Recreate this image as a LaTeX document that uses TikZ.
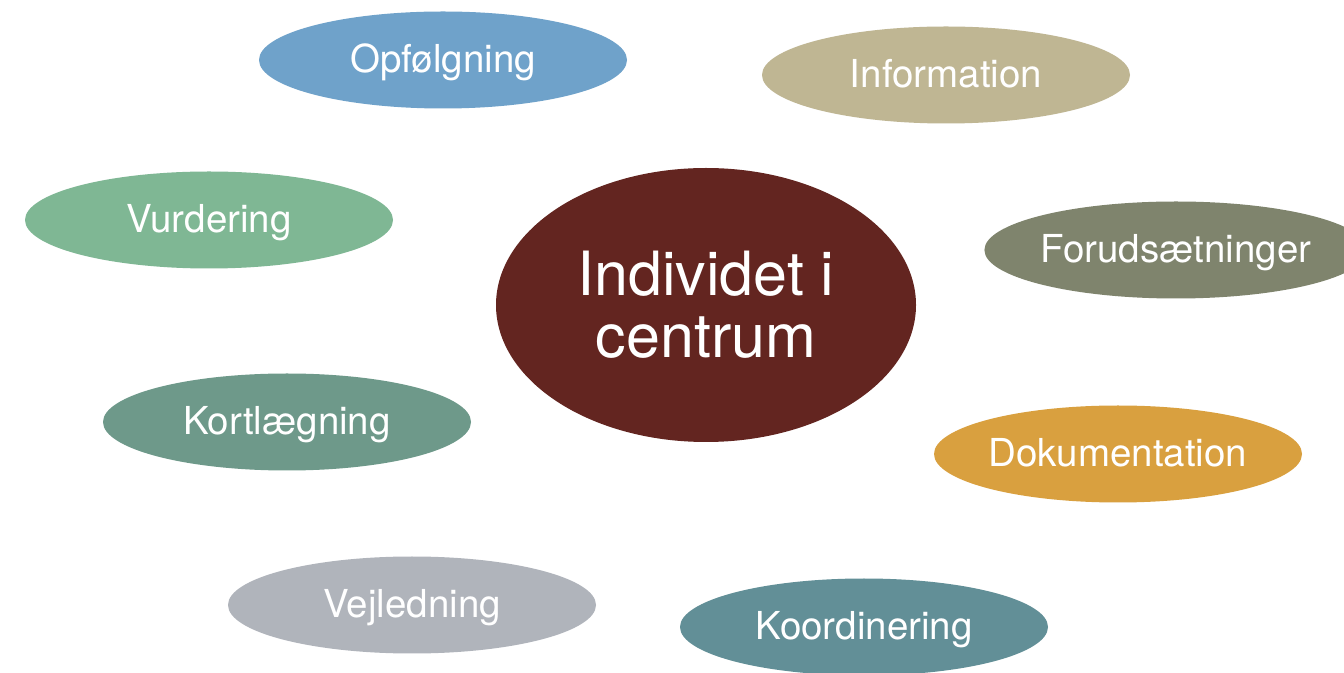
\documentclass[tikz,border=0pt]{standalone}
\usepackage{fontspec}
\setmainfont{TeX Gyre Heros}
\usetikzlibrary{shapes.geometric}
\definecolor{cOpf}{HTML}{6FA2CA}
\definecolor{cInf}{HTML}{BFB693}
\definecolor{cVur}{HTML}{7FB794}
\definecolor{cFor}{HTML}{7F846D}
\definecolor{cCen}{HTML}{632520}
\definecolor{cKor}{HTML}{6E998A}
\definecolor{cDok}{HTML}{D9A03F}
\definecolor{cVej}{HTML}{B0B4BB}
\definecolor{cKoo}{HTML}{628F97}
\tikzset{
  oval/.style={ellipse, inner sep=0pt, minimum width=368pt, minimum height=97pt, text=white, text height=30pt, text depth=4pt, font=\fontsize{38.5}{42}\selectfont},
  bigoval/.style={ellipse, inner sep=0pt, minimum width=420pt, minimum height=274pt, text=white, align=center, font=\fontsize{61}{62}\selectfont}
}
\begin{document}
\begin{tikzpicture}[x=1pt,y=1pt]
\useasboundingbox (0,0) rectangle (1344,672);
\clip (0,0) rectangle (1344,672);
\fill[white] (0,0) rectangle (1344,672);
\node[bigoval, fill=cCen] (cen) at (706,367) {Individet i\\centrum};
\node[oval, fill=cOpf] (opf) at (443,612) {Opfølgning};
\node[oval, fill=cInf] (inf) at (946,597) {Information};
\node[oval, fill=cVur] (vur) at (209,452) {Vurdering};
\node[oval, fill=cFor] (for) at (1176,422) {Forudsætninger};
\node[oval, fill=cKor] (kor) at (287,250) {Kortlægning};
\node[oval, fill=cDok] (dok) at (1118,218) {Dokumentation};
\node[oval, fill=cVej] (vej) at (412,67) {Vejledning};
\node[oval, fill=cKoo] (koo) at (864,45) {Koordinering};
\end{tikzpicture}
\end{document}
